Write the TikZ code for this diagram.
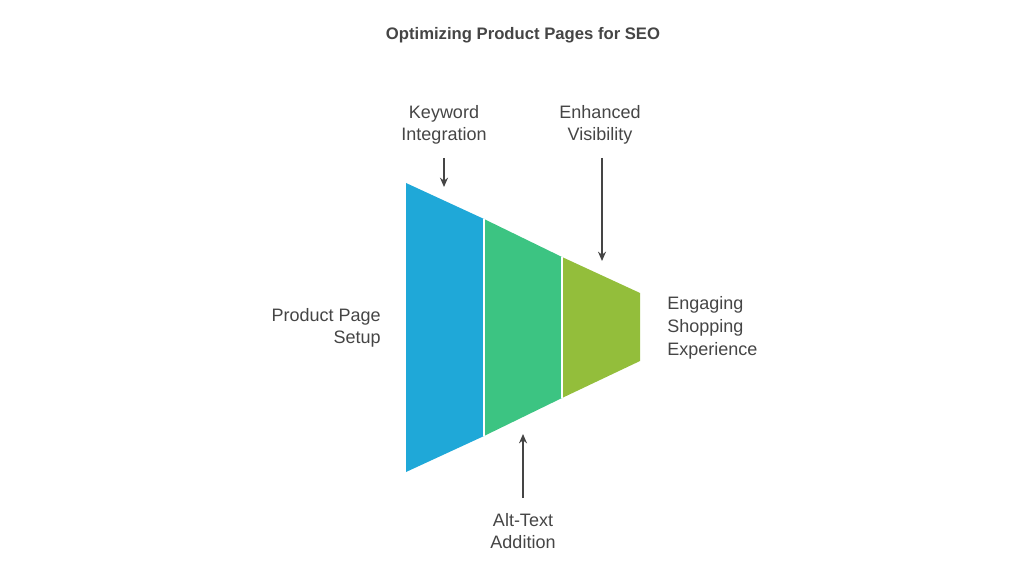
\documentclass[tikz,border=0pt]{standalone}
\usepackage{fontspec}
\setmainfont{Liberation Sans}
\usetikzlibrary{arrows.meta, positioning}
\definecolor{txtgray}{HTML}{454545}
\definecolor{segblue}{HTML}{1FA8D8}
\definecolor{seggreen}{HTML}{3CC482}
\definecolor{segolive}{HTML}{93BE3B}
\tikzset{
    lbl/.style={text=txtgray, font=\fontsize{13.5}{17}\selectfont, align=center, inner sep=0pt},
    seg/.style={draw=white, line width=1.5pt, line join=miter},
    pointer/.style={draw=txtgray, line width=1.2pt, -{Stealth[length=7pt,width=6pt]}}
}
\begin{document}
\begin{tikzpicture}[x=0.75pt,y=-0.75pt]
    \useasboundingbox (0,0) rectangle (1024,577);
    % title
    \node[lbl, font=\bfseries\fontsize{12.5}{15}\selectfont] (title) at (523,35) {Optimizing Product Pages for SEO};

    % funnel segments
    \fill[segblue] (406,183) -- (484,219) -- (484,436) -- (406,472) -- cycle;
    \fill[seggreen] (484,219) -- (562,257) -- (562,398) -- (484,436) -- cycle;
    \fill[segolive] (562,257) -- (640,293) -- (640,361) -- (562,398) -- cycle;
    \draw[seg] (484,219) -- (484,436);
    \draw[seg] (562,257) -- (562,398);

    % labels
    \node[lbl, align=right, anchor=east] (setup) at (381,328) {Product Page\\Setup};
    \node[lbl, align=left, anchor=west] (engage) at (667,328) {Engaging\\Shopping\\Experience};
    \node[lbl] (keyword) at (444,125) {Keyword\\Integration};
    \node[lbl] (visible) at (600,125) {Enhanced\\Visibility};
    \node[lbl] (alttext) at (523,531) {Alt-Text\\Addition};

    % pointers
    \coordinate (kwend) at (444,187);
    \coordinate (visend) at (602,261);
    \coordinate (altend) at (523,434);
    \draw[pointer] (444,158) -- (kwend);
    \draw[pointer] (602,158) -- (visend);
    \draw[pointer] (523,498) -- (altend);
\end{tikzpicture}
\end{document}
